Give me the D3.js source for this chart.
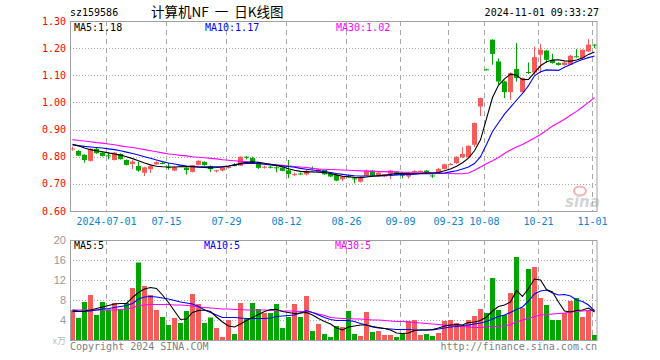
<!DOCTYPE html>
<html><head><meta charset="utf-8">
<script src="https://cdn.jsdelivr.net/npm/d3@7"></script>
<style>html,body{margin:0;padding:0;background:#fff;} svg{display:block;}</style>
</head><body><div id="chart"></div>
<script>
const dates = [
"2024-06-21","2024-06-24","2024-06-25","2024-06-26","2024-06-27","2024-06-28",
"2024-07-01","2024-07-02","2024-07-03","2024-07-04","2024-07-05","2024-07-08","2024-07-09","2024-07-10","2024-07-11","2024-07-12",
"2024-07-15","2024-07-16","2024-07-17","2024-07-18","2024-07-19","2024-07-22","2024-07-23","2024-07-24","2024-07-25","2024-07-26",
"2024-07-29","2024-07-30","2024-07-31","2024-08-01","2024-08-02","2024-08-05","2024-08-06","2024-08-07","2024-08-08","2024-08-09",
"2024-08-12","2024-08-13","2024-08-14","2024-08-15","2024-08-16","2024-08-19","2024-08-20","2024-08-21","2024-08-22","2024-08-23",
"2024-08-26","2024-08-27","2024-08-28","2024-08-29","2024-09-02","2024-09-03","2024-09-04","2024-09-05","2024-09-06",
"2024-09-09","2024-09-10","2024-09-11","2024-09-12","2024-09-13","2024-09-18","2024-09-19","2024-09-20",
"2024-09-23","2024-09-24","2024-09-25","2024-09-26","2024-09-27","2024-09-30",
"2024-10-08","2024-10-09","2024-10-10","2024-10-11","2024-10-14","2024-10-15","2024-10-16","2024-10-17","2024-10-18",
"2024-10-21","2024-10-22","2024-10-23","2024-10-24","2024-10-25","2024-10-28","2024-10-29","2024-10-30","2024-10-31","2024-11-01"];

const openP = [0.828,0.821,0.807,0.785,0.829,0.815,0.805,0.788,0.810,0.788,
0.773,0.766,0.741,0.754,0.772,0.777,0.762,0.749,0.767,0.759,
0.744,0.770,0.781,0.766,0.748,0.749,0.760,0.769,0.767,0.800,
0.795,0.779,0.761,0.763,0.761,0.760,0.750,0.734,0.738,0.735,
0.759,0.744,0.751,0.739,0.733,0.717,0.728,0.720,0.708,0.730,
0.749,0.730,0.728,0.737,0.745,0.741,0.727,0.745,0.746,0.749,
0.731,0.741,0.755,0.772,0.776,0.798,0.798,0.844,0.985,1.122,
1.231,1.151,1.077,1.038,1.123,1.038,1.112,1.110,1.176,1.191,
1.157,1.145,1.138,1.139,1.170,1.163,1.188,1.213];
const highP = [0.837,0.824,0.809,0.831,0.832,0.818,0.813,0.817,0.812,0.790,
0.788,0.781,0.763,0.768,0.783,0.781,0.778,0.764,0.768,0.761,
0.770,0.787,0.783,0.768,0.752,0.763,0.765,0.776,0.801,0.803,
0.800,0.781,0.767,0.766,0.766,0.762,0.788,0.741,0.742,0.752,
0.764,0.757,0.753,0.741,0.735,0.730,0.734,0.724,0.728,0.753,
0.751,0.743,0.737,0.751,0.747,0.743,0.744,0.750,0.749,0.751,
0.735,0.759,0.774,0.777,0.801,0.835,0.842,0.926,1.018,1.124,
1.233,1.163,1.080,1.110,1.219,1.092,1.147,1.206,1.216,1.194,
1.179,1.148,1.150,1.175,1.197,1.196,1.234,1.214];
const lowP = [0.822,0.802,0.778,0.782,0.810,0.800,0.790,0.786,0.789,0.768,
0.755,0.745,0.729,0.740,0.770,0.772,0.752,0.747,0.764,0.734,
0.742,0.768,0.767,0.744,0.742,0.746,0.756,0.765,0.766,0.790,
0.775,0.755,0.756,0.757,0.743,0.746,0.721,0.729,0.732,0.731,
0.752,0.742,0.733,0.725,0.710,0.710,0.722,0.702,0.705,0.728,
0.726,0.728,0.726,0.717,0.731,0.720,0.720,0.741,0.743,0.737,
0.722,0.739,0.753,0.768,0.774,0.796,0.796,0.836,0.950,1.118,
1.139,1.065,1.016,1.010,1.077,1.036,1.105,1.102,1.108,1.145,
1.143,1.136,1.136,1.137,1.165,1.160,1.186,1.200];
const closeP = [0.830,0.804,0.788,0.829,0.813,0.803,0.803,0.815,0.791,0.770,
0.782,0.749,0.761,0.766,0.780,0.776,0.758,0.761,0.765,0.751,
0.769,0.785,0.769,0.754,0.750,0.761,0.762,0.768,0.800,0.799,
0.778,0.759,0.763,0.762,0.759,0.748,0.736,0.736,0.737,0.748,
0.757,0.754,0.735,0.727,0.712,0.727,0.727,0.718,0.726,0.749,
0.730,0.741,0.735,0.749,0.733,0.730,0.741,0.747,0.748,0.739,
0.730,0.755,0.772,0.773,0.800,0.810,0.840,0.924,1.016,1.120,
1.179,1.077,1.038,1.108,1.090,1.090,1.110,1.167,1.194,1.157,
1.145,1.138,1.147,1.172,1.169,1.194,1.213,1.210];

const volume = [6.0,4.4,7.6,9.0,5.0,7.6,6.1,7.4,6.1,7.4,
10.4,15.5,10.8,9.0,6.0,4.6,3.0,4.4,3.4,5.8,
9.2,7.2,3.4,4.5,2.4,0.6,4.0,1.2,7.4,4.2,
7.4,6.2,5.4,5.4,7.2,2.4,4.6,7.2,4.6,8.8,
1.8,3.2,1.2,0.6,2.8,2.6,5.8,1.2,0.8,5.6,
1.6,1.8,1.0,1.0,0.6,1.2,3.8,4.0,1.0,1.2,
0.8,1.4,3.8,4.0,3.4,2.8,4.0,4.8,6.2,5.4,
12.4,6.0,5.0,9.4,16.6,6.4,14.2,14.6,8.4,7.0,
4.0,4.0,5.4,7.8,8.4,4.6,6.0,1.0];

const ma5 = [0.846,0.840,0.832,0.826,0.822,0.818,0.814,0.810,0.806,0.800,
0.793,0.785,0.777,0.770,0.765,0.763,0.762,0.762,0.763,0.764,
0.763,0.761,0.760,0.759,0.760,0.762,0.765,0.770,0.775,0.779,
0.781,0.779,0.776,0.772,0.768,0.763,0.756,0.750,0.746,0.744,
0.744,0.743,0.742,0.738,0.733,0.728,0.726,0.724,0.723,0.725,
0.728,0.730,0.732,0.735,0.738,0.738,0.737,0.737,0.738,0.740,
0.740,0.742,0.748,0.755,0.765,0.778,0.795,0.822,0.862,0.940,
1.018,1.063,1.087,1.104,1.100,1.084,1.085,1.110,1.135,1.150,
1.156,1.157,1.153,1.152,1.156,1.164,1.177,1.186];
const ma10 = [0.843,0.841,0.838,0.836,0.834,0.832,0.829,0.826,0.822,0.817,
0.812,0.806,0.800,0.794,0.788,0.782,0.777,0.773,0.769,0.766,
0.764,0.763,0.763,0.763,0.763,0.764,0.766,0.770,0.773,0.775,
0.776,0.775,0.772,0.770,0.768,0.766,0.764,0.761,0.757,0.754,
0.751,0.748,0.745,0.742,0.738,0.735,0.732,0.730,0.729,0.729,
0.729,0.729,0.730,0.731,0.733,0.734,0.735,0.736,0.737,0.737,
0.737,0.738,0.740,0.744,0.748,0.755,0.762,0.775,0.800,0.845,
0.893,0.925,0.957,0.983,1.008,1.033,1.062,1.098,1.113,1.120,
1.119,1.118,1.130,1.140,1.150,1.158,1.165,1.171];
const ma30 = [0.863,0.860,0.858,0.855,0.852,0.850,0.847,0.844,0.840,0.837,
0.834,0.830,0.826,0.822,0.818,0.814,0.810,0.808,0.805,0.803,
0.800,0.798,0.796,0.794,0.792,0.789,0.787,0.785,0.783,0.781,
0.777,0.775,0.773,0.772,0.770,0.768,0.766,0.764,0.762,0.760,
0.757,0.755,0.754,0.753,0.752,0.751,0.750,0.749,0.748,0.747,
0.746,0.745,0.745,0.744,0.744,0.743,0.743,0.743,0.743,0.742,
0.741,0.740,0.739,0.738,0.737,0.737,0.740,0.750,0.762,0.774,
0.785,0.797,0.812,0.825,0.836,0.845,0.857,0.869,0.882,0.897,
0.913,0.925,0.938,0.953,0.967,0.983,1.000,1.018];

const vma5 = [5.7,5.7,5.8,6.0,6.3,6.6,6.9,7.2,7.3,7.3,
8.5,9.5,10.2,10.5,10.3,9.0,7.5,5.8,4.1,4.2,
5.5,5.9,6.0,5.7,4.6,3.6,2.8,2.6,3.2,3.9,
4.5,5.1,5.7,6.1,6.1,5.7,5.5,5.3,5.4,5.5,
5.0,4.3,3.7,3.2,2.4,2.0,2.6,2.8,3.0,3.0,
2.7,2.5,2.3,2.0,1.4,1.3,1.4,1.9,2.0,2.0,
2.1,2.4,2.8,3.0,3.1,3.0,3.5,3.6,3.9,4.6,
5.8,6.7,7.0,7.6,9.9,8.7,10.3,12.2,12.0,10.1,
9.6,7.6,5.8,5.6,5.9,6.0,6.4,5.6];
const vma10 = [6.0,5.8,5.7,5.8,6.0,6.2,6.3,6.5,6.7,6.9,
7.3,8.2,8.6,8.7,8.6,8.4,8.2,7.9,7.6,7.4,
7.2,6.7,6.0,5.5,5.0,4.5,4.5,4.5,4.4,4.3,
4.3,4.3,4.3,4.4,4.7,4.8,4.9,5.0,5.4,5.9,
5.5,5.0,4.5,4.1,3.9,3.9,3.9,3.7,3.3,3.0,
2.6,2.4,2.3,2.2,2.1,2.1,2.1,2.0,2.0,2.0,
2.0,2.2,2.4,2.6,2.7,2.9,3.0,3.2,3.4,3.7,
4.2,4.7,5.0,5.5,6.1,6.6,7.8,9.2,9.8,10.0,
9.4,9.0,9.1,8.8,8.0,7.7,7.0,5.8];
const vma30 = [6.0,6.0,6.0,6.0,6.0,6.0,6.0,6.0,6.1,6.2,
6.4,6.9,7.0,7.1,7.1,7.1,7.1,7.0,7.0,6.9,
6.8,6.6,6.5,6.4,6.3,6.2,6.2,6.1,6.1,6.0,
6.0,6.0,6.0,5.9,5.9,5.8,5.8,5.8,5.7,5.7,
5.5,5.2,4.9,4.5,4.4,4.3,4.3,4.2,4.2,4.1,
4.0,4.0,3.9,3.8,3.7,3.7,3.6,3.5,3.4,3.3,
3.2,3.1,3.0,2.9,2.8,2.7,2.6,2.5,2.5,2.6,
2.7,2.7,2.8,3.1,3.6,4.0,4.3,4.7,5.0,5.1,
5.2,5.3,5.4,5.6,5.7,5.8,5.9,6.0];

const dateTicks = ["2024-07-01","2024-07-15","2024-07-29","2024-08-12","2024-08-26","2024-09-09","2024-09-23","2024-10-08","2024-10-21","2024-11-01"];
const dateTickLabels = ["2024-07-01","07-15","07-29","08-12","08-26","09-09","09-23","10-08","10-21","11-01"];
const priceTicks = [0.6,0.7,0.8,0.9,1.0,1.1,1.2,1.3];
const volTicks = [4,8,12,16,20];

const W = 660, H = 360;
const L = 70, R = 597.5;
const P_TOP = 21, P_BOT = 211, V_TOP = 240, V_BOT = 340;
const RED = "#f65b5b", GREEN = "#00a600";
const MONO = "'DejaVu Sans Mono', monospace";

const svg = d3.select("#chart").append("svg").attr("width", W).attr("height", H)
  .style("background", "#fff");

const x = d3.scaleBand().domain(dates).range([69, 597]).padding(0);
const cx = d => x(d) + 3;
const yP = d3.scaleLinear().domain([0.6, 1.3]).range([P_BOT, P_TOP]);
const yV = d3.scaleLinear().domain([0, 20]).range([V_BOT, V_TOP]);

// header
svg.append("text").attr("x", 70).attr("y", 16).attr("font-family", MONO).attr("font-size", 10)
  .attr("fill", "#000").text("sz159586");
svg.append("text").attr("x", 151).attr("y", 17).attr("font-family", "'Noto Sans CJK SC', sans-serif")
  .attr("font-size", 13.5).attr("fill", "#000").attr("xml:space", "preserve").style("white-space", "pre")
  .text("计算机NF  一  日K线图");
svg.append("text").attr("x", 599).attr("y", 16).attr("text-anchor", "end").attr("font-family", MONO)
  .attr("font-size", 10).attr("fill", "#000").text("2024-11-01 09:33:27");

// grids
const gridG = svg.append("g");
priceTicks.filter(t => t > 0.6 && t < 1.3).forEach(t => {
  gridG.append("line").attr("x1", L).attr("x2", R).attr("y1", Math.round(yP(t)) + 0.5).attr("y2", Math.round(yP(t)) + 0.5)
    .attr("stroke", "#a8a8a8").attr("stroke-dasharray", "1,2");
});
volTicks.filter(t => t < 20).forEach(t => {
  gridG.append("line").attr("x1", L).attr("x2", R).attr("y1", Math.round(yV(t)) + 0.5).attr("y2", Math.round(yV(t)) + 0.5)
    .attr("stroke", "#a8a8a8").attr("stroke-dasharray", "1,2");
});
dateTicks.forEach(d => {
  const gx = x(d) + 1.5;
  gridG.append("line").attr("x1", gx).attr("x2", gx).attr("y1", P_TOP).attr("y2", P_BOT)
    .attr("stroke", "#a8a8a8").attr("stroke-dasharray", "5,4");
  gridG.append("line").attr("x1", gx).attr("x2", gx).attr("y1", V_TOP).attr("y2", V_BOT)
    .attr("stroke", "#a8a8a8").attr("stroke-dasharray", "5,4");
});

// watermark
const wm = svg.append("g").attr("opacity", 0.6);
wm.append("ellipse").attr("cx", 580).attr("cy", 191).attr("rx", 6).attr("ry", 4.5)
  .attr("fill", "none").attr("stroke", "#f08080").attr("stroke-width", 2);
wm.append("text").attr("x", 565).attr("y", 207).attr("font-family", "'DejaVu Sans', sans-serif")
  .attr("font-size", 15).attr("font-weight", "bold").attr("font-style", "italic").attr("fill", "#b8b8b8").text("sina");

// candles
const idx = d3.range(dates.length);
const cg = svg.append("g");
idx.forEach(i => {
  const up = closeP[i] > openP[i];
  const col = up ? RED : GREEN;
  const c = cx(dates[i]);
  cg.append("line").attr("x1", c + 0.5).attr("x2", c + 0.5)
    .attr("y1", yP(highP[i])).attr("y2", yP(lowP[i])).attr("stroke", col).attr("stroke-width", 1);
  const top = yP(Math.max(openP[i], closeP[i]));
  const h = Math.max(1, Math.abs(yP(openP[i]) - yP(closeP[i])));
  cg.append("rect").attr("x", c - 2).attr("width", 5).attr("y", top).attr("height", h).attr("fill", col);
});

// price MA lines
const lineP = d3.line().x((d, i) => cx(dates[i]) + 0.5).y(d => yP(d));
[[ma30, "#ff00ff"], [ma10, "#0000ff"], [ma5, "#000"]].forEach(([arr, col]) => {
  svg.append("path").datum(arr).attr("d", lineP).attr("fill", "none").attr("stroke", col).attr("stroke-width", 1.1);
});

// volume bars
const vg = svg.append("g");
idx.forEach(i => {
  const up = closeP[i] > openP[i];
  vg.append("rect").attr("x", cx(dates[i]) - 2).attr("width", 5)
    .attr("y", yV(volume[i])).attr("height", V_BOT - yV(volume[i])).attr("fill", up ? RED : GREEN);
});
const lineV = d3.line().x((d, i) => cx(dates[i]) + 0.5).y(d => yV(d));
[[vma30, "#ff00ff"], [vma10, "#0000ff"], [vma5, "#000"]].forEach(([arr, col]) => {
  svg.append("path").datum(arr).attr("d", lineV).attr("fill", "none").attr("stroke", col).attr("stroke-width", 1.1);
});

// frames
svg.append("rect").attr("x", L + 0.5).attr("y", P_TOP + 0.5).attr("width", R - L - 1).attr("height", P_BOT - P_TOP)
  .attr("fill", "none").attr("stroke", "#a0a0a0");
svg.append("rect").attr("x", L + 0.5).attr("y", V_TOP + 0.5).attr("width", R - L - 1).attr("height", V_BOT - V_TOP)
  .attr("fill", "none").attr("stroke", "#a0a0a0");

// price axis labels
priceTicks.forEach(t => {
  svg.append("text").attr("x", 66).attr("y", yP(t) + 3.5).attr("text-anchor", "end")
    .attr("font-family", MONO).attr("font-size", 10).attr("fill", "#f00").text(t.toFixed(2));
});
// date labels
dateTicks.forEach((d, k) => {
  svg.append("text").attr("x", x(d) + 1.5).attr("y", 225).attr("text-anchor", "middle")
    .attr("font-family", MONO).attr("font-size", 10).attr("fill", "#0b84d2").text(dateTickLabels[k]);
});
// volume axis labels
volTicks.forEach(t => {
  svg.append("text").attr("x", 66).attr("y", yV(t) + 4).attr("text-anchor", "end")
    .attr("font-family", "'Liberation Sans', sans-serif").attr("font-size", 11).attr("fill", "#999").text(t);
});
svg.append("text").attr("x", 66).attr("y", 344).attr("text-anchor", "end")
  .attr("font-family", "'Noto Sans CJK SC', sans-serif").attr("font-size", 9).attr("fill", "#bbb").text("x万");

// legends
const leg = (txt, lx, ly, col) => svg.append("text").attr("x", lx).attr("y", ly)
  .attr("font-family", MONO).attr("font-size", 10).attr("fill", col).text(txt);
leg("MA5:1.18", 74, 31, "#000");
leg("MA10:1.17", 205, 31, "#0000ff");
leg("MA30:1.02", 336, 31, "#ff00ff");
leg("MA5:5", 74, 249, "#000");
leg("MA10:5", 204, 249, "#0000ff");
leg("MA30:5", 335, 249, "#ff00ff");

// footer
svg.append("text").attr("x", 70).attr("y", 350).attr("font-family", MONO).attr("font-size", 10)
  .attr("fill", "#808080").text("Copyright 2024 SINA.COM");
svg.append("text").attr("x", 597).attr("y", 350).attr("text-anchor", "end").attr("font-family", MONO)
  .attr("font-size", 10).attr("fill", "#808080").text("http://finance.sina.com.cn");
</script>
</body></html>
